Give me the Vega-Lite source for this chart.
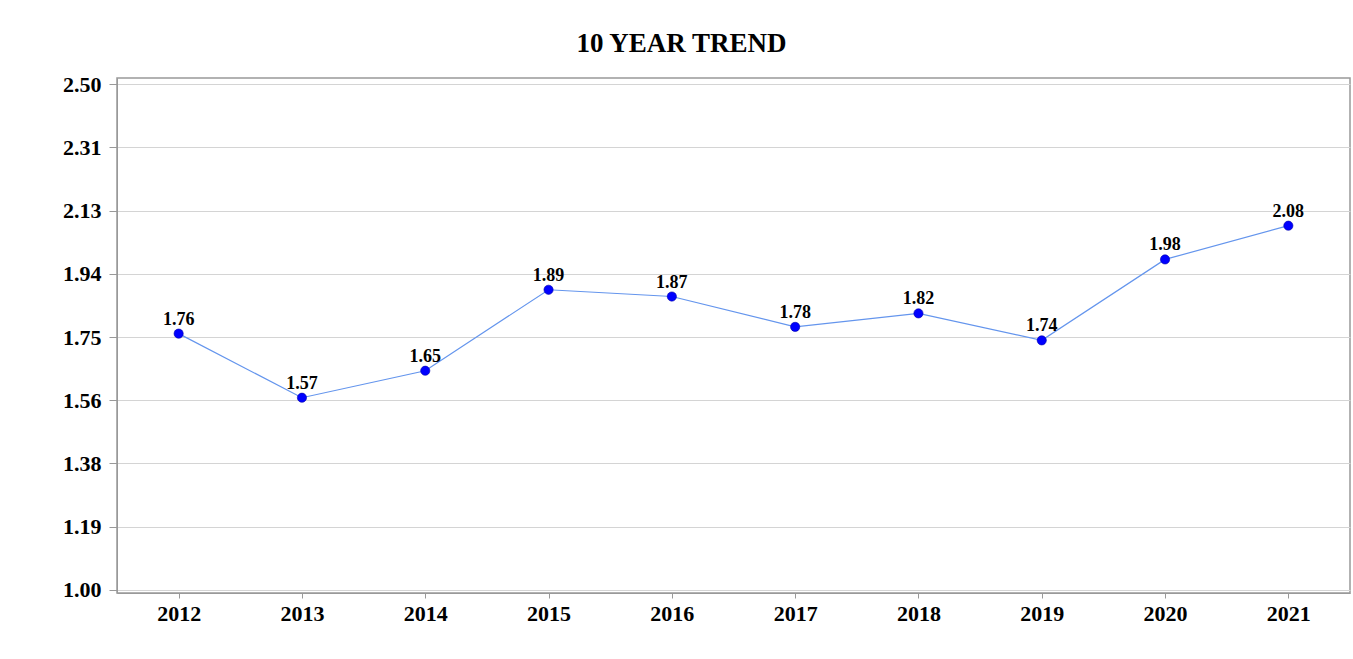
{
  "$schema": "https://vega.github.io/schema/vega-lite/v6.json",
  "autosize": {"type": "none"},
  "padding": {"left": 117, "top": 78, "right": 3, "bottom": 66},
  "width": 1233,
  "height": 515,
  "background": "white",
  "title": {
    "text": "10 YEAR TREND",
    "font": "Liberation Serif",
    "fontSize": 27,
    "fontWeight": "bold",
    "color": "black",
    "anchor": "middle",
    "dx": -52,
    "offset": 15
  },
  "data": {
    "values": [
      {"year": "2012", "value": 1.76},
      {"year": "2013", "value": 1.57},
      {"year": "2014", "value": 1.65},
      {"year": "2015", "value": 1.89},
      {"year": "2016", "value": 1.87},
      {"year": "2017", "value": 1.78},
      {"year": "2018", "value": 1.82},
      {"year": "2019", "value": 1.74},
      {"year": "2020", "value": 1.98},
      {"year": "2021", "value": 2.08}
    ]
  },
  "encoding": {
    "x": {
      "field": "year",
      "type": "ordinal",
      "scale": {"type": "point", "padding": 0.5},
      "axis": {
        "title": null,
        "labelAngle": 0,
        "labelFont": "Liberation Serif",
        "labelFontSize": 22,
        "labelFontWeight": "bold",
        "labelColor": "black",
        "tickSize": 5,
        "labelPadding": 5,
        "tickColor": "#999999",
        "domainColor": "#999999",
        "grid": false
      }
    },
    "y": {
      "field": "value",
      "type": "quantitative",
      "scale": {"domain": [0.9911, 2.5178], "nice": false, "zero": false},
      "axis": {
        "title": null,
        "values": [1, 1.1875, 1.375, 1.5625, 1.75, 1.9375, 2.125, 2.3125, 2.5],
        "labelExpr": "datum.value == 1.5625 ? '1.56' : datum.value == 2.3125 ? '2.31' : format(datum.value, '.2f')",
        "labelFont": "Liberation Serif",
        "labelFontSize": 22,
        "labelFontWeight": "bold",
        "labelColor": "black",
        "tickSize": 8,
        "labelPadding": 8,
        "tickColor": "#999999",
        "domainColor": "#999999",
        "grid": true,
        "gridColor": "#d4d4d4",
        "gridWidth": 1
      }
    }
  },
  "layer": [
    {"mark": {"type": "line", "color": "#6495ED", "strokeWidth": 1.2}},
    {"mark": {"type": "point", "filled": true, "color": "#0000FF", "size": 85, "opacity": 1, "stroke": "#0000AA", "strokeWidth": 0.6}},
    {
      "mark": {"type": "text", "font": "Liberation Serif", "fontSize": 18, "fontWeight": "bold", "color": "black", "baseline": "alphabetic", "dy": -9},
      "encoding": {"text": {"field": "value", "type": "quantitative", "format": ".2f"}}
    }
  ],
  "config": {
    "view": {"stroke": "#999999", "strokeWidth": 1.5}
  }
}
